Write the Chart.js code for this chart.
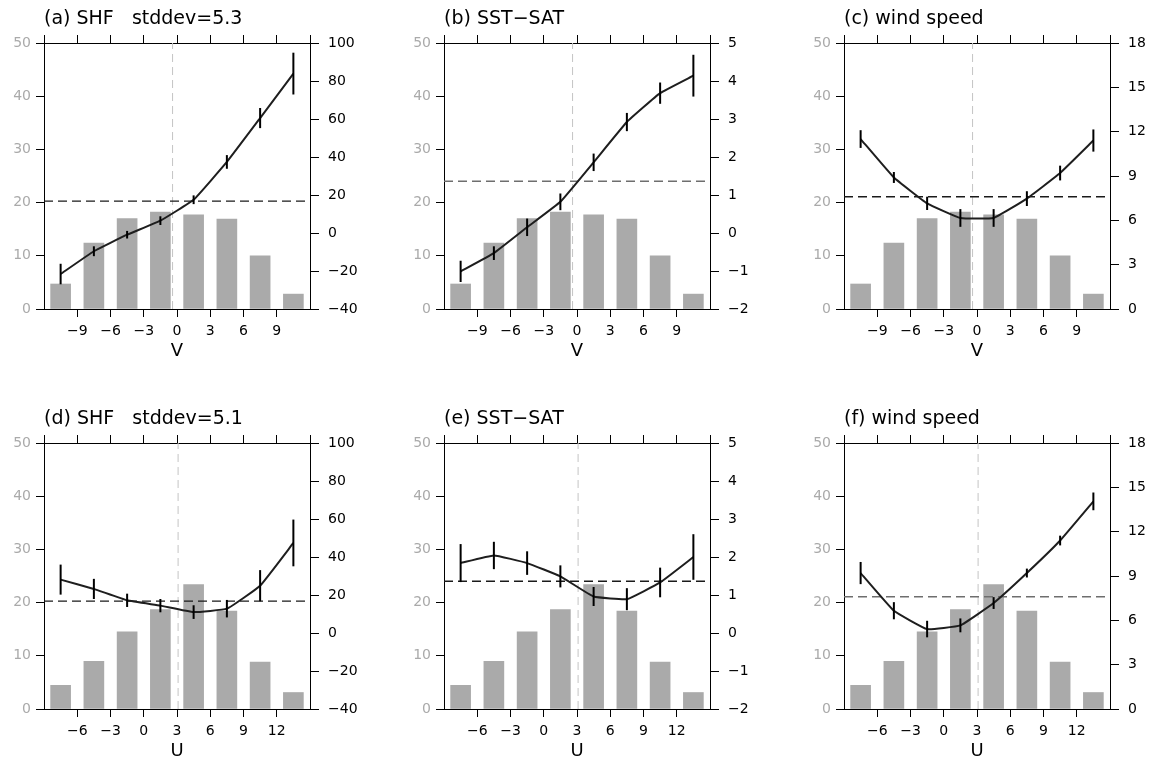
<!DOCTYPE html>
<html><head><meta charset="utf-8">
<script src="https://cdn.jsdelivr.net/npm/chart.js@4/dist/chart.umd.min.js"></script>
<style>
html,body{margin:0;padding:0;background:#fff;width:1153px;height:762px;overflow:hidden;position:relative;}
canvas{position:absolute;}
</style></head><body>
<canvas id="p0" width="380" height="362" style="left:0px;top:0px"></canvas>
<canvas id="p1" width="380" height="362" style="left:400px;top:0px"></canvas>
<canvas id="p2" width="380" height="362" style="left:800px;top:0px"></canvas>
<canvas id="p3" width="380" height="362" style="left:0px;top:400px"></canvas>
<canvas id="p4" width="380" height="362" style="left:400px;top:400px"></canvas>
<canvas id="p5" width="380" height="362" style="left:800px;top:400px"></canvas>
<script>
// ---- data ----
const vBins = [-10.5, -7.5, -4.5, -1.5, 1.5, 4.5, 7.5, 10.5];
const uBins = [-7.5, -4.5, -1.5, 1.5, 4.5, 7.5, 10.5, 13.5];
const vFreq = [4.7, 12.4, 17.0, 18.2, 17.7, 16.9, 10.0, 2.8];
const uFreq = [4.45, 8.95, 14.5, 18.7, 23.4, 18.4, 8.8, 3.1];

const shfV    = [-21.6, -9.6, -0.9, 6.5, 17.5, 37.4, 60.5, 83.9];
const shfVErr = [5.4, 2.6, 2.0, 2.3, 2.3, 3.6, 5.3, 11.0];
const dtV     = [-1.01, -0.53, 0.15, 0.82, 1.86, 2.92, 3.68, 4.14];
const dtVErr  = [0.28, 0.18, 0.23, 0.22, 0.23, 0.24, 0.28, 0.55];
const wsV     = [11.5, 8.9, 7.15, 6.16, 6.16, 7.47, 9.2, 11.4];
const wsVErr  = [0.6, 0.37, 0.45, 0.6, 0.6, 0.5, 0.5, 0.75];

const shfU    = [28.1, 23.2, 17.2, 14.4, 11.0, 12.8, 24.9, 47.4];
const shfUErr = [7.9, 5.3, 3.5, 3.5, 3.6, 4.6, 8.2, 12.3];
const dtU     = [1.84, 2.04, 1.84, 1.49, 0.96, 0.89, 1.33, 2.0];
const dtUErr  = [0.5, 0.36, 0.31, 0.29, 0.25, 0.29, 0.39, 0.6];
const wsU     = [9.2, 6.65, 5.41, 5.66, 7.17, 9.2, 11.4, 14.05];
const wsUErr  = [0.75, 0.58, 0.56, 0.47, 0.4, 0.3, 0.33, 0.6];

const panelTitles = ['(a) SHF   stddev=5.3', '(b) SST\u2212SAT', '(c) wind speed',
                     '(d) SHF   stddev=5.1', '(e) SST\u2212SAT', '(f) wind speed'];
const xAxisNames = ['V', 'V', 'V', 'U', 'U', 'U'];
const xMins = [-12, -12, -12, -9, -9, -9];
const xMaxs = [12, 12, 12, 15, 15, 15];
const rightMins = [-40, -2, 0, -40, -2, 0];
const rightMaxs = [100, 5, 18, 100, 5, 18];
const rightSteps = [20, 1, 3, 20, 1, 3];
const leftTicks = [0, 50, 10]; // min, max, step
const meanLines = [16.8, 1.36, 7.6, 16.8, 1.36, 7.6];
const centerLines = [-0.4, -0.4, -0.4, 3.1, 3.1, 3.1];

const binSets = [vBins, vBins, vBins, uBins, uBins, uBins];
const freqSets = [vFreq, vFreq, vFreq, uFreq, uFreq, uFreq];
const valSets = [shfV, dtV, wsV, shfU, dtU, wsU];
const errSets = [shfVErr, dtVErr, wsVErr, shfUErr, dtUErr, wsUErr];
const meanColors = ['#1a1a1a', '#6e6e6e', '#1a1a1a', '#1a1a1a', '#1a1a1a', '#6e6e6e'];

// ---- rendering ----
const FONT = '"DejaVu Sans", "Liberation Sans", sans-serif';
const fmt = v => (v < 0 ? '\u2212' + Math.abs(v) : String(v));

const errorBars = {
  id: 'errbars',
  afterDatasetsDraw(chart, args, o) {
    const { ctx, scales } = chart;
    const xs = scales.x, ys = scales.yR;
    ctx.save();
    ctx.strokeStyle = '#000';
    ctx.lineWidth = 2;
    o.xv.forEach((xv, i) => {
      const px = xs.getPixelForValue(xv);
      ctx.beginPath();
      ctx.moveTo(px, ys.getPixelForValue(o.yv[i] - o.ev[i]));
      ctx.lineTo(px, ys.getPixelForValue(o.yv[i] + o.ev[i]));
      ctx.stroke();
    });
    ctx.restore();
  }
};
const panelTitle = {
  id: 'panelTitle',
  afterDraw(chart, args, o) {
    const ctx = chart.ctx;
    ctx.save();
    ctx.font = '19px ' + FONT;
    ctx.fillStyle = '#000';
    ctx.textBaseline = 'alphabetic';
    ctx.textAlign = 'left';
    ctx.fillText(o.text, chart.chartArea.left, 24);
    ctx.restore();
  }
};

function makePanel(i) {
  const bins = binSets[i];
  const xmin = xMins[i], xmax = xMaxs[i];
  const gridCommon = { drawOnChartArea: false, drawTicks: true, tickColor: '#000', offset: false };
  new Chart(document.getElementById('p' + i), {
    type: 'bar',
    data: {
      datasets: [
        { type: 'line', data: bins.map((x, k) => ({ x, y: valSets[i][k] })), xAxisID: 'x', yAxisID: 'yR',
          borderColor: '#1e1e1e', borderWidth: 2, tension: 0.1, pointRadius: 0, order: 1 },
        { type: 'line', data: [{ x: xmin, y: meanLines[i] }, { x: xmax, y: meanLines[i] }], xAxisID: 'x', yAxisID: 'yR',
          borderColor: meanColors[i], borderWidth: 1.4, borderDash: [9, 5], pointRadius: 0, order: 2 },
        { type: 'line', data: [{ x: centerLines[i], y: leftTicks[0] }, { x: centerLines[i], y: leftTicks[1] }], xAxisID: 'x', yAxisID: 'yL',
          borderColor: '#c4c4c4', borderWidth: 1, borderDash: [8, 5], pointRadius: 0, order: 3 },
        { type: 'bar', data: bins.map((x, k) => ({ x, y: freqSets[i][k] })), xAxisID: 'x', yAxisID: 'yL',
          backgroundColor: '#aaaaaa', borderWidth: 0, barThickness: 20, order: 4 }
      ]
    },
    options: {
      responsive: false, animation: false, devicePixelRatio: 1,
      layout: { padding: 0 },
      plugins: {
        legend: { display: false }, tooltip: { enabled: false },
        errbars: { xv: bins, yv: valSets[i], ev: errSets[i] },
        panelTitle: { text: panelTitles[i] }
      },
      scales: {
        x: {
          type: 'linear', position: 'bottom', min: xmin, max: xmax, offset: false,
          ticks: { stepSize: 3, color: '#000', font: { family: FONT, size: 14 }, padding: 6,
                   maxRotation: 0, autoSkip: false, callback: v => fmt(v) },
          afterBuildTicks: s => { s.ticks = s.ticks.filter(t => t.value > xmin + 1e-6 && t.value < xmax - 1e-6); },
          grid: Object.assign({ tickLength: 8 }, gridCommon),
          border: { display: true, color: '#000', width: 1 },
          title: { display: true, text: xAxisNames[i], color: '#000', font: { family: FONT, size: 18 }, padding: { top: 0, bottom: 0 } },
          afterFit: s => { s.height = 53; }
        },
        xTop: {
          type: 'linear', axis: 'x', position: 'top', min: xmin, max: xmax, offset: false,
          ticks: { stepSize: 3, autoSkip: false, maxRotation: 0, callback: () => '' },
          grid: Object.assign({ tickLength: 8 }, gridCommon),
          border: { display: true, color: '#000', width: 1 },
          afterFit: s => { s.height = 43; }
        },
        yL: {
          type: 'linear', position: 'left', min: leftTicks[0], max: leftTicks[1],
          ticks: { stepSize: leftTicks[2], color: '#aaaaaa', font: { family: FONT, size: 14 }, padding: 5 },
          grid: Object.assign({ tickLength: 8 }, gridCommon),
          border: { display: true, color: '#000', width: 1 },
          afterFit: s => { s.width = 44; }
        },
        yR: {
          type: 'linear', position: 'right', min: rightMins[i], max: rightMaxs[i],
          ticks: { stepSize: rightSteps[i], color: '#000', font: { family: FONT, size: 14 }, padding: 9, callback: v => fmt(v) },
          grid: Object.assign({ tickLength: 9 }, gridCommon),
          border: { display: true, color: '#000', width: 1 },
          afterFit: s => { s.width = 70; }
        }
      }
    },
    plugins: [errorBars, panelTitle]
  });
}
for (let i = 0; i < 6; i++) makePanel(i);
</script>
</body></html>
